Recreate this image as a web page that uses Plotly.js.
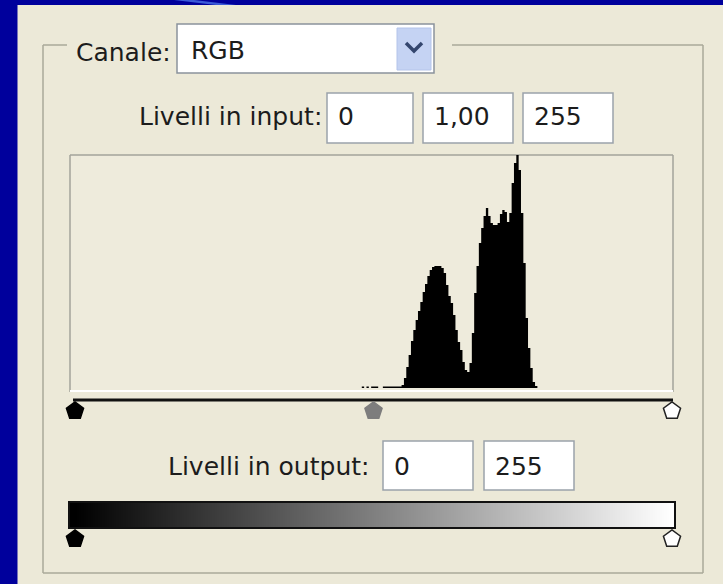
<!DOCTYPE html>
<html>
<head>
<meta charset="utf-8">
<script src="https://cdn.plot.ly/plotly-3.0.1.min.js"></script>
<style>html,body{margin:0;padding:0;background:#00009c;}#chart{width:723px;height:584px;}</style>
</head>
<body>
<div id="chart"></div>
<script>
// ---- data ----
const channelName = "RGB";
const channelLabel = "Canale:";
const inputLabel = "Livelli in input:";
const outputLabel = "Livelli in output:";
const histLevels = [120,121,122,123,124,125,126,127,128,129,130,131,132,133,134,135,136,137,138,139,
  140,141,142,143,144,145,146,147,148,149,150,151,152,153,154,155,156,157,158,159,
  160,161,162,163,164,165,166,167,168,169,170,171,172,173,174,175,176,177,178,179,
  180,181,182,183,184,185,186,187,188,189,190,191,192,193,194,195,196,197,198];
const histCounts = [0,0,0,1.5,0,1.5,0,1.5,1.5,1.5,0,0,1.5,1.5,1.5,1.5,1.5,1.5,1.5,1.5,
  3,10,21,33,47,58,68,77,86,96,104,112,118,121,122,122,122,120,115,103,
  92,85,73,58,46,38,26,18,16,25,55,95,122,145,160,172,180,172,165,163,
  163,165,174,178,176,166,175,205,225,233,218,175,125,70,40,20,6,2,0];
const inputLevels = [0, 255];
const gammaValue = 1.00;
const outputLevels = [0, 255];

// ---- layout helpers (pixel -> paper) ----
const W = 723, H = 584;
const X = px => px / W;
const Y = py => 1 - py / H;
const v0px = 75, v255px = 672;
const k = (v255px - v0px) / 255;
const plotL = 70, plotR = 673;
const xRange = [(plotL - v0px) / k, 255 + (plotR - v255px) / k];
const font = 'DejaVu Sans';
const txtCol = '#1c1c1c';

const gammaPos = inputLevels[0] + (inputLevels[1] - inputLevels[0]) / 2;
const gammaText = gammaValue.toFixed(2).replace('.', ',');

const hidden = {showgrid:false, zeroline:false, showticklabels:false, ticks:'', showline:false, fixedrange:true};

const traces = [
  {type:'scatter', mode:'lines', x:histLevels, y:histCounts, line:{shape:'hvh', width:0, color:'#000'},
   fill:'tozeroy', fillcolor:'#000', xaxis:'x', yaxis:'y', hoverinfo:'skip'},
  {type:'heatmap', z:[[outputLevels[0], outputLevels[1]]], x:outputLevels, y:[0.5],
   colorscale:[[0,'#000'],[1,'#fff']], zsmooth:'best', showscale:false, xaxis:'x2', yaxis:'y2', hoverinfo:'skip'},
  {type:'scatter', mode:'markers', x:[inputLevels[0], gammaPos, inputLevels[1]], y:[0.5,0.5,0.5],
   marker:{symbol:'pentagon', size:18, color:['#000','#7d7d7d','#fff'], line:{color:['#000','#7d7d7d','#222'], width:1.5}},
   xaxis:'x', yaxis:'y3', cliponaxis:false, hoverinfo:'skip'},
  {type:'scatter', mode:'markers', x:outputLevels, y:[0.5,0.5],
   marker:{symbol:'pentagon', size:18, color:['#000','#fff'], line:{color:['#000','#222'], width:1.5}},
   xaxis:'x2', yaxis:'y4', cliponaxis:false, hoverinfo:'skip'}
];

function rect(x0,y0,x1,y1,fill,line,lw,layer){
  return {type:'rect', xref:'paper', yref:'paper', x0:X(x0), x1:X(x1), y0:Y(y1), y1:Y(y0),
    fillcolor:fill, line:{color:line||'rgba(0,0,0,0)', width:lw||0}, layer:layer||'below'};
}
function seg(x0,y0,x1,y1,col,lw,layer){
  return {type:'line', xref:'paper', yref:'paper', x0:X(x0), x1:X(x1), y0:Y(y0), y1:Y(y1),
    line:{color:col, width:lw}, layer:layer||'below'};
}
function path(pts,fill,col,lw,closed){
  let d = pts.map((p,i)=>(i?'L':'M')+X(p[0])+','+Y(p[1])).join(' ') + (closed?' Z':'');
  return {type:'path', xref:'paper', yref:'paper', path:d, fillcolor:fill||'rgba(0,0,0,0)',
    line:{color:col||'rgba(0,0,0,0)', width:lw||0}, layer:'below'};
}

const boxLine = '#9ba2aa';
const grp = '#aaa89a';
const shapes = [
  // blue streak
  path([[174,0],[194,0],[236,5],[216,5]], '#3b5ad8', null, 0, true),
  // beige dialog panel
  rect(17.5,5,723,584,'#ece9d8'),
  // group box
  seg(43,45,67,45,grp,1.5), seg(452,45,703,45,grp,1.5),
  seg(43,45,43,573,grp,1.5), seg(703,45,703,573,grp,1.5), seg(43,573,703,573,grp,1.5),
  // dropdown
  rect(177,24,434,73,'#ffffff','#8a939c',1.5),
  rect(397,28,431,70,'#c5d3f3','#b4c4ea',1),
  path([[406,43],[414,51],[422,43]], null, '#34466e', 3.5, false),
  // input boxes
  rect(327,93,413,143,'#ffffff',boxLine,1.5),
  rect(423,93,513,143,'#ffffff',boxLine,1.5),
  rect(523,93,613,143,'#ffffff',boxLine,1.5),
  // histogram box
  rect(70,155,673,392,'#eeebdc'),
  seg(70,155,673,155,'#a3a39b',1.5), seg(70,155,70,392,'#a3a39b',1.5), seg(673,155,673,392,'#a3a39b',1.5),
  seg(70,391,673,391,'#ffffff',2),
  // slider line
  seg(73,400,673,400,'#111',3),
  // output boxes
  rect(383,441,473,490,'#ffffff',boxLine,1.5),
  rect(484,441,574,490,'#ffffff',boxLine,1.5),
  // gradient border
  {type:'rect', xref:'paper', yref:'paper', x0:X(69), x1:X(675), y0:Y(528), y1:Y(502), line:{color:'#111', width:2}, layer:'above'}
];

function ann(text,x,y,xanchor){
  return {text:text, xref:'paper', yref:'paper', x:X(x), y:Y(y), xanchor:xanchor||'left', yanchor:'middle',
    showarrow:false, font:{family:font, size:25, color:txtCol}};
}
const annotations = [
  ann(channelLabel, 74, 53),
  ann(channelName, 189, 50),
  ann(inputLabel, 324, 116, 'right'),
  ann(String(inputLevels[0]), 336, 116),
  ann(gammaText, 432, 116),
  ann(String(inputLevels[1]), 532, 116),
  ann(outputLabel, 371, 466, 'right'),
  ann(String(outputLevels[0]), 392, 466),
  ann(String(outputLevels[1]), 493, 466)
];

const histMax = Math.max(...histCounts);
const layout = {
  width:W, height:H, margin:{l:0,r:0,t:0,b:0,pad:0},
  paper_bgcolor:'#00009c', plot_bgcolor:'rgba(0,0,0,0)', showlegend:false,
  xaxis:Object.assign({domain:[X(plotL), X(plotR)], range:xRange}, hidden),
  yaxis:Object.assign({domain:[Y(388), Y(155)], range:[0, histMax]}, hidden),
  xaxis2:Object.assign({domain:[X(69), X(675)], range:[(69 - v0px)/k, 255 + (675 - v255px)/k], anchor:'y2'}, hidden),
  yaxis2:Object.assign({domain:[Y(528), Y(502)], range:[0,1], anchor:'x2'}, hidden),
  yaxis3:Object.assign({domain:[Y(421), Y(401)], range:[0,1], anchor:'x'}, hidden),
  yaxis4:Object.assign({domain:[Y(549), Y(529)], range:[0,1], anchor:'x2'}, hidden),
  shapes:shapes, annotations:annotations
};
Plotly.newPlot('chart', traces, layout, {staticPlot:true, displayModeBar:false});
</script>
</body>
</html>
